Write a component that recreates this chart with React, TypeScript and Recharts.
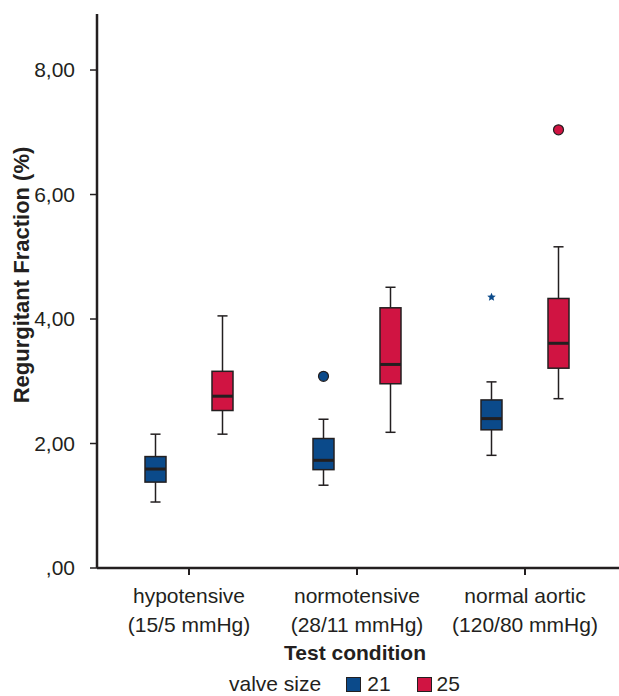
import {
  ComposedChart,
  Bar,
  XAxis,
  YAxis,
  Legend,
  Label,
} from 'recharts'

// Test conditions (two-line tick labels)
const conditions = ['hypotensive', 'normotensive', 'normal aortic']
const pressures = ['(15/5 mmHg)', '(28/11 mmHg)', '(120/80 mmHg)']

// valve size 21
const v21Min = [1.06, 1.33, 1.81]
const v21Q1 = [1.38, 1.58, 2.22]
const v21Median = [1.59, 1.73, 2.4]
const v21Q3 = [1.79, 2.08, 2.7]
const v21Max = [2.15, 2.39, 2.99]
const v21Outliers = [[], [3.08], []]
const v21Extremes = [[], [], [4.35]]

// valve size 25
const v25Min = [2.15, 2.18, 2.72]
const v25Q1 = [2.53, 2.96, 3.21]
const v25Median = [2.76, 3.27, 3.61]
const v25Q3 = [3.16, 4.18, 4.33]
const v25Max = [4.05, 4.51, 5.16]
const v25Outliers = [[], [], [7.04]]
const v25Extremes = [[], [], []]

const yTicks = [0, 2, 4, 6, 8]

const BLUE = '#0b4a8a'
const RED = '#d01442'
const INK = '#231f20'
const FONT = '"Liberation Sans", Arial, Helvetica, sans-serif'

const data = conditions.map((c, i) => ({
  condition: c,
  pressure: pressures[i],
  range21: [v21Min[i], v21Max[i]],
  range25: [v25Min[i], v25Max[i]],
  s21: { lo: v21Min[i], q1: v21Q1[i], med: v21Median[i], q3: v21Q3[i], hi: v21Max[i], out: v21Outliers[i], ext: v21Extremes[i] },
  s25: { lo: v25Min[i], q1: v25Q1[i], med: v25Median[i], q3: v25Q3[i], hi: v25Max[i], out: v25Outliers[i], ext: v25Extremes[i] },
}))

// five-point star for extreme values
function starPoints(cx: number, cy: number, r: number) {
  const pts: string[] = []
  for (let k = 0; k < 10; k++) {
    const rad = k % 2 === 0 ? r : r * 0.45
    const a = -Math.PI / 2 + (k * Math.PI) / 5
    pts.push(`${cx + rad * Math.cos(a)},${cy + rad * Math.sin(a)}`)
  }
  return pts.join(' ')
}

function makeBox(key: 's21' | 's25', color: string) {
  return (props: any) => {
    const { x, y, width, height, payload } = props
    const s = payload[key]
    const top = Math.min(y, y + height)
    const h = Math.abs(height)
    // pixel position from the bar's own scaled range [lo, hi]
    const py = (v: number) => top + ((s.hi - v) / (s.hi - s.lo)) * h
    const cx = x + width / 2
    const cap = width * 0.48
    return (
      <g>
        <line x1={cx} x2={cx} y1={py(s.hi)} y2={py(s.q3)} stroke={INK} strokeWidth={1.5} />
        <line x1={cx} x2={cx} y1={py(s.q1)} y2={py(s.lo)} stroke={INK} strokeWidth={1.5} />
        <line x1={cx - cap / 2} x2={cx + cap / 2} y1={py(s.hi)} y2={py(s.hi)} stroke={INK} strokeWidth={1.5} />
        <line x1={cx - cap / 2} x2={cx + cap / 2} y1={py(s.lo)} y2={py(s.lo)} stroke={INK} strokeWidth={1.5} />
        <rect x={x} y={py(s.q3)} width={width} height={py(s.q1) - py(s.q3)} fill={color} stroke={INK} strokeWidth={1.5} />
        <line x1={x} x2={x + width} y1={py(s.med)} y2={py(s.med)} stroke={INK} strokeWidth={3} />
        {s.out.map((v: number, j: number) => (
          <circle key={'o' + j} cx={cx} cy={py(v)} r={5} fill={color} stroke={INK} strokeWidth={1.2} />
        ))}
        {s.ext.map((v: number, j: number) => (
          <polygon key={'e' + j} points={starPoints(cx, py(v), 4.5)} fill={color} />
        ))}
      </g>
    )
  }
}

function ConditionTick(props: any) {
  const { x, y, payload, index } = props
  return (
    <text x={x} y={y} textAnchor="middle" fontSize={21} fontFamily={FONT} fill={INK}>
      <tspan x={x} dy={26}>{payload.value}</tspan>
      <tspan x={x} dy={29}>{pressures[index]}</tspan>
    </text>
  )
}

function LegendContent() {
  const sq = (c: string) => (
    <span style={{ display: 'inline-block', width: 13, height: 13, background: c, border: `1px solid ${INK}` }} />
  )
  return (
    <div style={{ height: 24, display: 'flex', alignItems: 'center', paddingLeft: 229, fontSize: 21, fontFamily: FONT, color: INK, lineHeight: '24px' }}>
      <span>valve size</span>
      <span style={{ marginLeft: 25, display: 'flex' }}>{sq(BLUE)}</span>
      <span style={{ marginLeft: 6 }}>21</span>
      <span style={{ marginLeft: 26, display: 'flex' }}>{sq(RED)}</span>
      <span style={{ marginLeft: 5 }}>25</span>
    </div>
  )
}

export default function App() {
  return (
    <div style={{ position: 'absolute', left: 0, top: 0, background: '#fff' }}>
      <ComposedChart
        width={619}
        height={696}
        data={data}
        margin={{ top: 14, right: 0, bottom: 0, left: 0 }}
        barSize={21}
        barGap={46}
      >
        <XAxis
          dataKey="condition"
          height={104}
          padding={{ left: 8, right: 10 }}
          axisLine={{ stroke: INK, strokeWidth: 2.5 }}
          tickLine={{ stroke: INK, strokeWidth: 2 }}
          tickSize={7}
          tick={<ConditionTick />}
          interval={0}
        >
          <Label
            content={({ viewBox }: any) => (
              <text
                x={viewBox.x + viewBox.width / 2 - 3}
                y={viewBox.y + 92}
                textAnchor="middle"
                fontSize={21}
                fontWeight="bold"
                fontFamily={FONT}
                fill={INK}
              >
                Test condition
              </text>
            )}
          />
        </XAxis>
        <YAxis
          width={97}
          domain={[0, 8.9]}
          ticks={yTicks}
          allowDataOverflow
          axisLine={{ stroke: INK, strokeWidth: 2.5 }}
          tickLine={{ stroke: INK, strokeWidth: 1.5 }}
          tickSize={7}
          tickMargin={15}
          tick={{ fontSize: 21, fontFamily: FONT, fill: INK }}
          tickFormatter={(v: number) => (v === 0 ? ',00' : v.toFixed(2).replace('.', ','))}
        >
          <Label
            content={({ viewBox }: any) => {
              const cx = 21
              const cy = viewBox.y + viewBox.height / 2 - 16
              return (
                <text
                  x={cx}
                  y={cy}
                  transform={`rotate(-90 ${cx} ${cy})`}
                  textAnchor="middle"
                  dominantBaseline="central"
                  fontSize={22}
                  fontWeight="bold"
                  fontFamily={FONT}
                  fill={INK}
                >
                  Regurgitant Fraction (%)
                </text>
              )
            }}
          />
        </YAxis>
        <Legend verticalAlign="bottom" wrapperStyle={{ left: 0, width: 619 }} content={<LegendContent />} />
        <Bar dataKey="range21" name="21" fill={BLUE} shape={makeBox('s21', BLUE)} isAnimationActive={false} />
        <Bar dataKey="range25" name="25" fill={RED} shape={makeBox('s25', RED)} isAnimationActive={false} />
      </ComposedChart>
    </div>
  )
}
